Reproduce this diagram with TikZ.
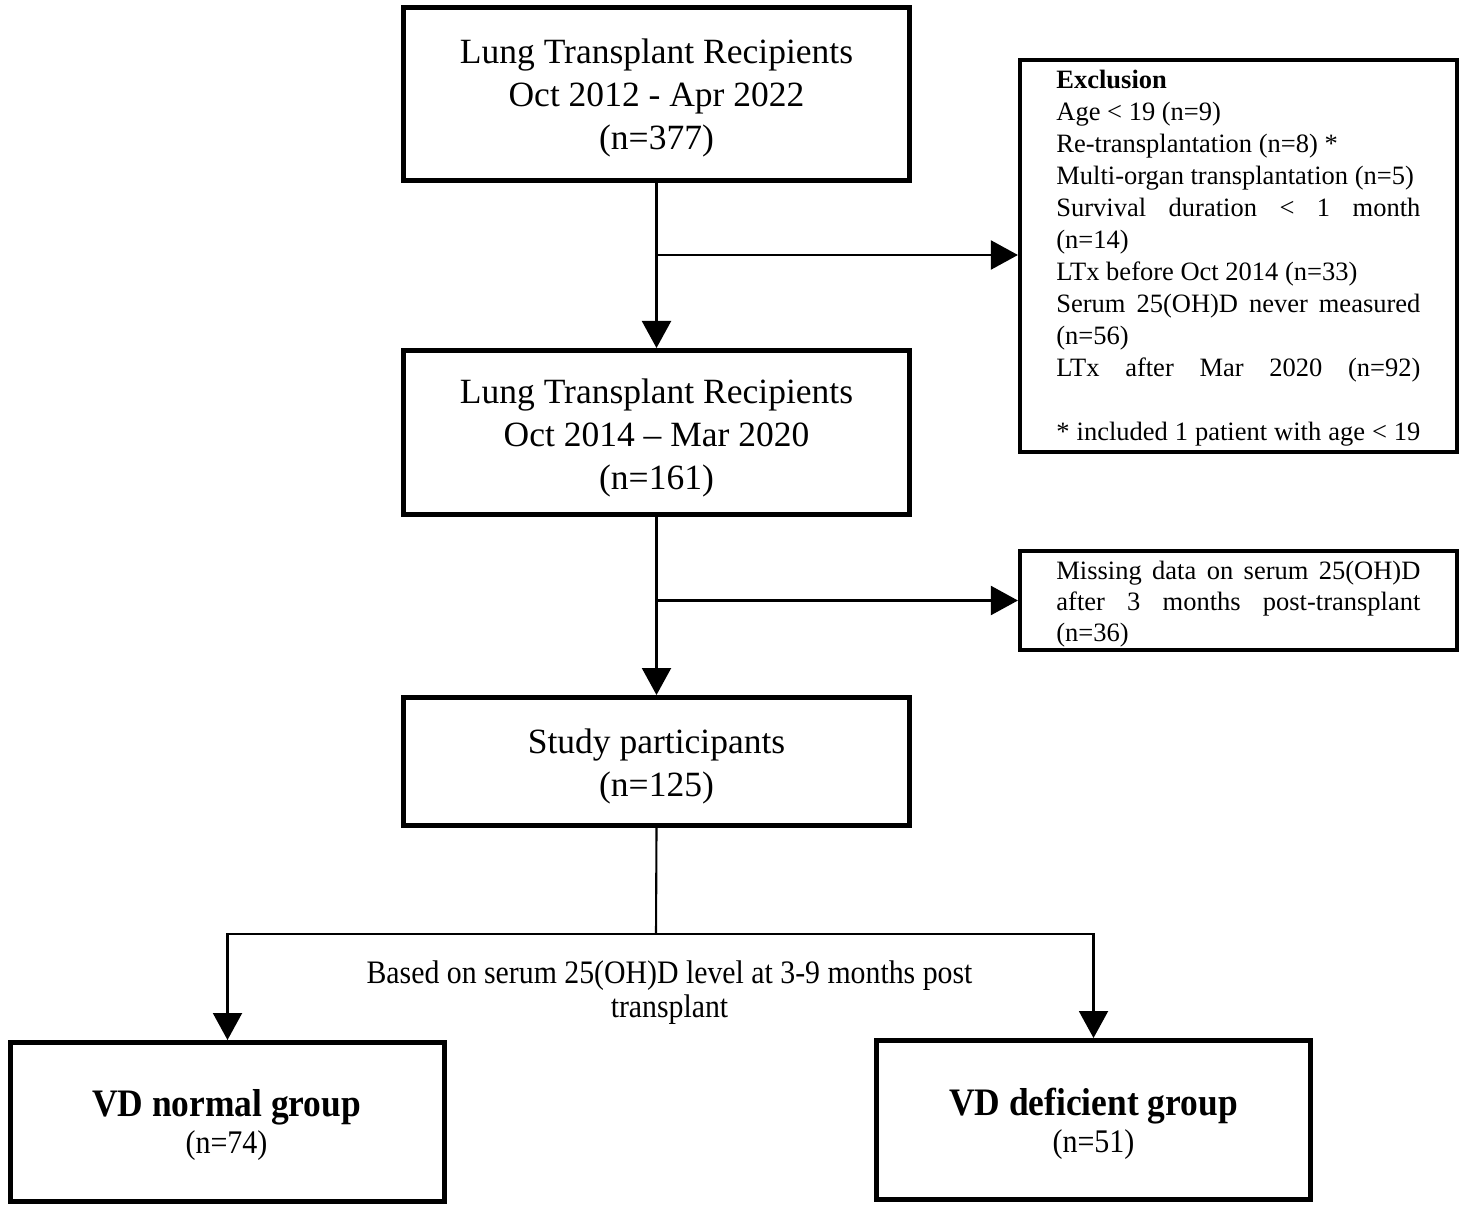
\documentclass[tikz,border=0pt]{standalone}
\usepackage{fontspec}
\usepackage{graphicx}
\setmainfont{Liberation Serif}
\usetikzlibrary{arrows.meta}
\begin{document}
\begin{tikzpicture}[x=0.5pt,y=-0.5pt,
  bigbox/.style={draw, line width=2.5pt, inner sep=0pt},
  sidebox/.style={draw, line width=2.1pt, inner sep=0pt},
  txt/.style={anchor=base, inner sep=0pt},
  conn/.style={line width=1.05pt, -{Triangle[width=14.5pt,length=13.5pt]}},
  plain/.style={line width=1.05pt}
]
\useasboundingbox (0,0) rectangle (1465,1208);
\newcommand{\maintxt}[1]{\begin{minipage}[t]{250pt}\centering\fontsize{17.75}{21.5}\selectfont #1\end{minipage}}
\newcommand{\tallx}[1]{\scalebox{1}[1.1]{#1}}
% boxes
\node[bigbox, minimum width=253pt, minimum height=86.5pt] (b1) at (656.5,94) {};
\node[sidebox, minimum width=218.5pt, minimum height=196pt] (ex) at (1238.5,256) {};
\node[bigbox, minimum width=253pt, minimum height=82pt] (b2) at (656.5,432.5) {};
\node[sidebox, minimum width=218.5pt, minimum height=49.5pt] (ms) at (1238.5,600.5) {};
\node[bigbox, minimum width=253pt, minimum height=64pt] (b3) at (656.5,761.5) {};
\node[bigbox, minimum width=217pt, minimum height=79.5pt] (vn) at (227.5,1122) {};
\node[bigbox, minimum width=217pt, minimum height=79.5pt] (vd) at (1093.5,1120) {};
% texts
\node[txt] (t1) at (656.5,64) {\maintxt{Lung Transplant Recipients\\Oct 2012 - Apr 2022\\(n=377)}};
\node[txt] (t2) at (656.5,403) {\maintxt{Lung Transplant Recipients\\Oct 2014 – Mar 2020\\(n=161)}};
\node[txt] (t3) at (656.5,753) {\maintxt{Study participants\\(n=125)}};
\node[anchor=base west, inner sep=0pt] (tex) at (1056,89) {\begin{minipage}[t]{182pt}\fontsize{13.25}{16}\selectfont\setlength{\parindent}{0pt}%
\textbf{Exclusion}\par
Age < 19 (n=9)\par
Re-transplantation (n=8) *\par
Multi-organ transplantation (n=5)\par
\makebox[\linewidth][s]{Survival duration < 1 month}\par
(n=14)\par
LTx before Oct 2014 (n=33)\par
\makebox[\linewidth][s]{Serum 25(OH)D never measured}\par
(n=56)\par
\makebox[\linewidth][s]{LTx after Mar 2020 (n=92)}\par
\mbox{}\par
\makebox[\linewidth][s]{* included 1 patient with age < 19}\end{minipage}};
\node[anchor=base west, inner sep=0pt] (tms) at (1056,579) {\begin{minipage}[t]{182pt}\fontsize{13.25}{15.5}\selectfont\setlength{\parindent}{0pt}%
\makebox[\linewidth][s]{Missing data on serum 25(OH)D}\par
\makebox[\linewidth][s]{after 3 months post-transplant}\par
(n=36)\end{minipage}};
\node[txt] (tlab) at (669.5,983) {\begin{minipage}[t]{330pt}\centering\fontsize{14.9}{17}\selectfont \tallx{Based on serum 25(OH)D level at 3-9 months post}\\\tallx{transplant}\end{minipage}};
\node[txt] (tvn) at (226.5,1116) {\begin{minipage}[t]{210pt}\centering\fontsize{17.7}{18.5}\selectfont\tallx{\textbf{VD normal group}}\\{\fontsize{15}{18.5}\selectfont \tallx{(n=74)}}\end{minipage}};
\node[txt] (tvd) at (1093.5,1115) {\begin{minipage}[t]{210pt}\centering\fontsize{17.7}{18.5}\selectfont\tallx{\textbf{VD deficient group}}\\{\fontsize{15}{18.5}\selectfont \tallx{(n=51)}}\end{minipage}};
% connectors
\coordinate (j1) at (656,255);
\coordinate (j2) at (656,600.5);
\coordinate (j3) at (656,934);
\draw[conn] (b1.south) -- (b2.north);
\draw[conn] (j1) -- (j1 -| ex.west);
\draw[conn] (b2.south) -- (b3.north);
\draw[conn] (j2) -- (j2 -| ms.west);
\draw[plain] (b3.south) -- (j3);
\draw[conn] (j3) -| (vn.north);
\draw[conn] (j3) -| (vd.north);
\end{tikzpicture}
\end{document}
